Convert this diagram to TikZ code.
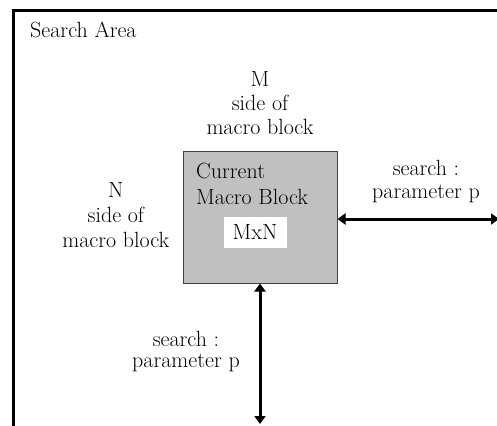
\documentclass[tikz,border=0pt]{standalone}
\usepackage{tikz}
\usetikzlibrary{arrows.meta}
\usetikzlibrary{positioning}

\definecolor{blockgray}{HTML}{C0C0C0}

\begin{document}
\begin{tikzpicture}[x=1pt, y=-1pt, font=\fontsize{22}{24}\selectfont,
    lbl/.style={align=center, inner sep=0pt},
    link/.style={line width=3pt, {Triangle[length=8pt,width=11pt]}-{Triangle[length=8pt,width=11pt]}}]
    \useasboundingbox (0,0) rectangle (497,425);
    % search area frame, runs off the right and bottom
    \draw[line width=3pt] (13,440) -- (13,11) -- (510,11);
    \node (tarea)[anchor=base west, inner sep=0pt] at (30,38) {Search Area};

    \node (blk)[draw=black!75, fill=blockgray, line width=1pt, minimum width=154pt, minimum height=132pt, inner sep=0pt] at (260,217) {};
    \node (tcur)[anchor=north west, align=left, inner sep=0pt, font=\fontsize{22}{26}\selectfont] at (196,163) {Current\\Macro Block};
    \node (mxn)[fill=white, minimum width=63pt, minimum height=31pt, inner sep=0pt] at (255,232) {MxN};

    \node (msize)[lbl, above=16pt of blk] {M\\side of\\macro block};
    \node (nsize)[lbl, left=13pt of blk, yshift=2pt, font=\fontsize{22}{25}\selectfont] {N\\side of\\macro block};

    \node (rsrch)[lbl, font=\fontsize{22}{23}\selectfont] at (426,182) {search :\\parameter p};
    \node (bsrch)[lbl, font=\fontsize{22}{21}\selectfont] at (186,352) {search :\\parameter p};

    \coordinate (rend) at (499,219);
    \coordinate (bend) at (260,424);
    \draw[link] (blk.east |- rend) -- (rend);
    \draw[link] (blk.south) -- (bend);
\end{tikzpicture}
\end{document}
